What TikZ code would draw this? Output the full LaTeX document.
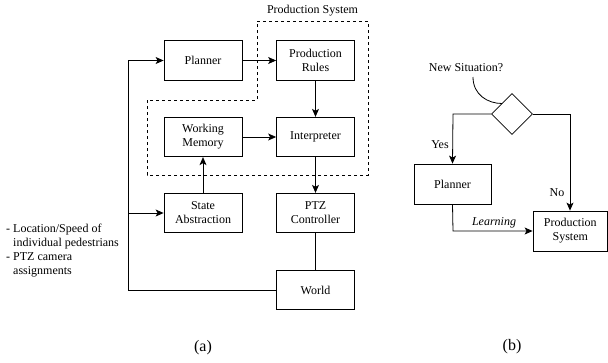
\documentclass[tikz,border=0pt]{standalone}
\usepackage{fontspec}
\setmainfont{Liberation Serif}
\usetikzlibrary{shapes.geometric,arrows.meta}
\begin{document}
\begin{tikzpicture}[x=1pt,y=-1pt,
  every node/.style={font=\fontsize{12}{14}\selectfont},
  box/.style={draw,line width=0.8pt,minimum width=78pt,minimum height=39.5pt,align=center,inner sep=1pt},
  conn/.style={line width=0.8pt},
  arr/.style={conn,-{Stealth[length=8pt,width=7pt,inset=2pt]}},
  lbl/.style={inner sep=0pt}]
\useasboundingbox (0,0) rectangle (608,362);
% (a)
\node[box] (plan) at (203,60.5) {Planner};
\node[box] (rules) at (315.5,60.5) {Production\\Rules};
\node[box] (wm) at (203,137) {Working\\Memory};
\node[box] (interp) at (315.5,137) {Interpreter};
\node[box] (sa) at (203,213) {State\\Abstraction};
\node[box] (ptz) at (315.5,213) {PTZ\\Controller};
\node[box] (world) at (315.5,290) {World};
\coordinate (c1) at (128,290);
\coordinate (c2) at (128,60.5);
\coordinate (c3) at (128,213);
\draw[arr] (world.west) -- (c1) -- (c2) -- (plan.west);
\draw[arr] (c3) -- (sa.west);
\draw[arr] (plan.east) -- (rules.west);
\draw[arr] (rules.south) -- (interp.north);
\draw[arr] (wm.east) -- (interp.west);
\draw[arr] (sa.north) -- (wm.south);
\draw[arr] (interp.south) -- (ptz.north);
\draw[conn] (ptz.south) -- (world.north);
\draw[line width=0.8pt,dash pattern=on 3pt off 3pt] (257,21) -- (368,21) -- (368,175) -- (147,175) -- (147,100) -- (257,100) -- cycle;
\node[lbl] (pslabel) at (312.5,11) {Production System};
\node[lbl,anchor=west,align=left] (info) at (6,251) {- Location/Speed of\\\hphantom{- }individual pedestrians\\- PTZ camera\\\hphantom{- }assignments};
\node[lbl,font=\fontsize{16}{18}\selectfont] (capa) at (203,348) {(a)};
% (b)
\node[draw,diamond,line width=0.8pt,minimum width=41pt,minimum height=41pt,inner sep=0pt] (dia) at (512,114) {};
\node[box,minimum width=77pt,minimum height=40pt] (planb) at (452.5,184) {Planner};
\node[box,minimum width=74.5pt,minimum height=40pt] (psb) at (570.25,231) {Production\\System};
\coordinate (d1) at (453,114);
\coordinate (d2) at (570,114);
\coordinate (d3) at (453,231);
\draw[arr] (dia.west) -- (d1) -- (planb.north);
\draw[arr] (dia.east) -- (d2) -- (psb.north -| d2);
\draw[arr] (planb.south) -- (d3) -- (psb.west);
\node[lbl] (yes) at (440,145) {Yes};
\node[lbl] (no) at (557,193) {No};
\node[lbl] (learn) at (494,223) {\itshape Learning};
\node[lbl] (newsit) at (466,68) {New Situation?};
\coordinate (q1) at (473,77);
\coordinate (q2) at (502,103.5);
\draw[conn] (q1) .. controls (473,95) and (488,103.5) .. (q2);
\node[lbl,font=\fontsize{16}{18}\selectfont] (capb) at (512,347) {(b)};
\end{tikzpicture}
\end{document}
